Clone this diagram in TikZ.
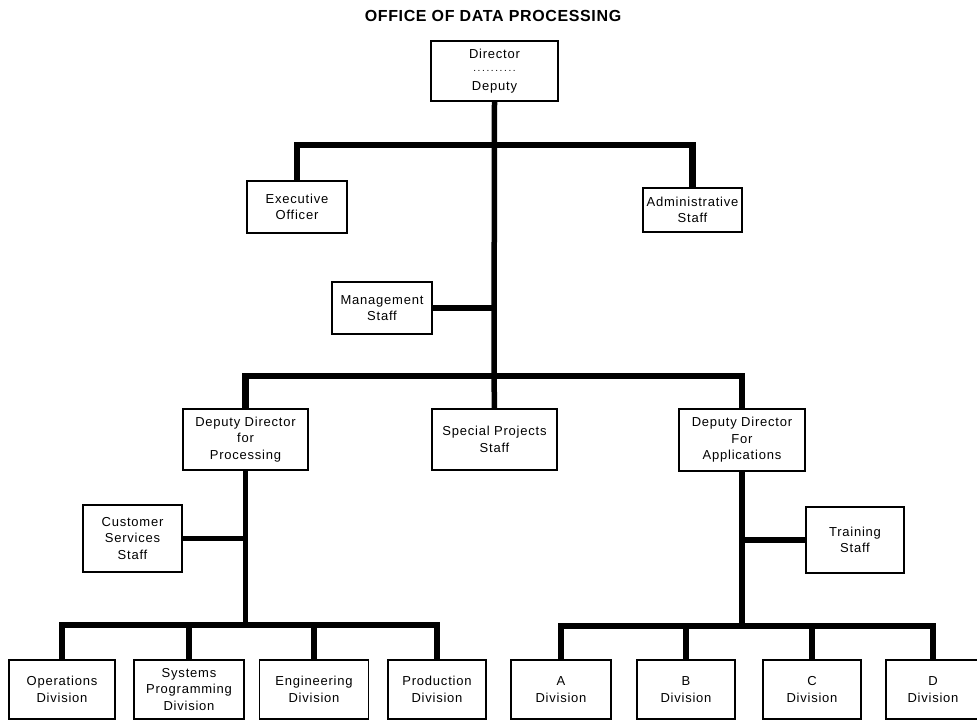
\documentclass[tikz,border=0pt]{standalone}
\usepackage{fontspec}
\setmainfont{Liberation Sans}[LetterSpace=6]
\newfontfamily\titlefont{Liberation Sans}[LetterSpace=4]
\begin{document}
\begin{tikzpicture}[x=1pt,y=-1pt,
  box/.style={draw, line width=1.1pt, inner sep=1pt, align=center,
    font=\fontsize{13}{16.5}\selectfont},
  sz/.style n args={2}{minimum width=#1pt, minimum height=#2pt},
  bar/.style={line width=6.5pt, line join=miter},
  stub/.style={line width=5.5pt}]
\useasboundingbox (0,0) rectangle (977,723);

\node[font=\titlefont\bfseries\fontsize{16}{18}\selectfont] (title) at (493,16) {OFFICE OF DATA PROCESSING};

% top level
\node[box, sz={127}{60}] (dir) at (494.5,71)
  {Director\\[-3pt]\makebox[46pt]{\fontsize{10}{10}\selectfont\dotfill}\\[2pt]Deputy};
\node[box, sz={100}{52}] (exec) at (297,207) {Executive\\Officer};
\node[box, sz={99}{44}] (admin) at (692.5,210) {Administrative\\Staff};
\node[box, sz={100}{52}] (mgmt) at (382,308) {Management\\Staff};

% second level
\node[box, sz={125}{61}] (dpp) at (245.5,439.5) {Deputy Director\\for\\Processing};
\node[box, sz={125}{61}] (spec) at (494.5,439.5) {Special Projects\\Staff};
\node[box, sz={126}{62}] (dpa) at (742,440) {Deputy Director\\For\\Applications};
\node[box, sz={99}{67}] (cust) at (132.5,538.5) {Customer\\Services\\Staff};
\node[box, sz={98}{66}] (train) at (855,540) {Training\\Staff};

% divisions
\node[box, sz={106}{59}] (ops) at (62,689.5) {Operations\\Division};
\node[box, sz={110}{59}] (sys) at (189,689.5) {Systems\\Programming\\Division};
\node[box, sz={109}{59}] (eng) at (314,689.5) {Engineering\\Division};
\node[box, sz={98}{59}] (prod) at (437,689.5) {Production\\Division};
\node[box, sz={100}{59}] (da) at (561,689.5) {A\\Division};
\node[box, sz={98}{59}] (db) at (686,689.5) {B\\Division};
\node[box, sz={98}{59}] (dc) at (812,689.5) {C\\Division};
\node[box, sz={94}{59}] (dd) at (933,689.5) {D\\Division};

% junction points on the trunks
\coordinate (topbar) at (494,145);
\coordinate (midbar) at (494,376);
\coordinate (leftbar) at (245.5,625);
\coordinate (rightbar) at (742,626);

% connectors
\draw[stub] (dir.south) -- (midbar);
\draw[bar] (exec.north) |- (topbar) -| (admin.north);
\draw[stub] (mgmt.east) -- (mgmt.east -| topbar);
\draw[bar] (dpp.north) |- (midbar) -| (dpa.north);
\draw[stub] (midbar) -- (spec.north);

\draw[stub] (dpp.south) -- (leftbar);
\draw[stub] (cust.east) -- (cust.east -| leftbar);
\draw[bar] (ops.north) |- (leftbar) -| (prod.north);
\draw[stub] (sys.north) -- (sys.north |- leftbar);
\draw[stub] (eng.north) -- (eng.north |- leftbar);

\draw[stub] (dpa.south) -- (rightbar);
\draw[stub] (train.west) -- (train.west -| rightbar);
\draw[bar] (da.north) |- (rightbar) -| (dd.north);
\draw[stub] (db.north) -- (db.north |- rightbar);
\draw[stub] (dc.north) -- (dc.north |- rightbar);
\end{tikzpicture}
\end{document}
